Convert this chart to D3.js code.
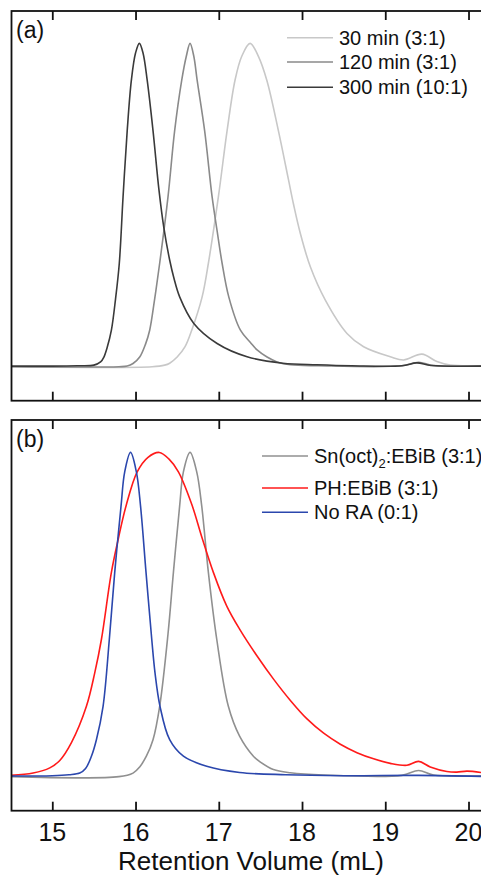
<!DOCTYPE html>
<meta charset="utf-8">
<script src="https://d3js.org/d3.v7.min.js"></script>
<style>
  body { margin: 0; background: #fff; }
  text { font-family: "Liberation Sans", Arial, sans-serif; fill: #111; }
</style>
<div id="chart"></div>
<script>
// x ticks (retention volume, mL)
var ticks = [15, 16, 17, 18, 19, 20]

// panel (a) series: [volume mL, normalised intensity]
var min300 = [[14.5,0.002],[15.0,0.002],[15.3,0.003],[15.5,0.005],[15.58,0.015],[15.62,0.03],[15.66,0.06],[15.71,0.113],[15.76,0.21],[15.805,0.32],[15.85,0.525],[15.9,0.73],[15.95,0.886],[16.0,0.97],[16.046,1.0],[16.09,0.97],[16.14,0.886],[16.21,0.73],[16.28,0.55],[16.34,0.43],[16.41,0.33],[16.46,0.275],[16.53,0.216],[16.7,0.134],[16.98,0.072],[17.34,0.031],[17.77,0.011],[18.18,0.006],[18.6,0.003],[19.2,0.003],[19.38,0.012],[19.55,0.004],[20.15,0.002]]
var min120 = [[14.5,0.0],[15.8,0.0],[15.9,0.002],[15.97,0.01],[16.05,0.03],[16.12,0.07],[16.17,0.113],[16.23,0.21],[16.29,0.32],[16.39,0.525],[16.47,0.73],[16.555,0.886],[16.61,0.96],[16.655,1.0],[16.7,0.96],[16.74,0.886],[16.83,0.73],[16.92,0.525],[16.98,0.42],[17.04,0.32],[17.12,0.216],[17.26,0.113],[17.38,0.075],[17.46,0.052],[17.58,0.03],[17.7,0.015],[17.86,0.006],[18.2,0.003],[19.2,0.003],[19.4,0.014],[19.58,0.004],[20.15,0.002]]
var min30 = [[14.5,0.0],[16.2,0.0],[16.35,0.005],[16.41,0.011],[16.5,0.03],[16.595,0.062],[16.675,0.113],[16.8,0.216],[16.875,0.32],[16.995,0.525],[17.1,0.73],[17.195,0.886],[17.276,0.96],[17.376,1.0],[17.476,0.96],[17.577,0.886],[17.716,0.73],[17.836,0.58],[17.9,0.5],[17.98,0.412],[18.1,0.309],[18.28,0.206],[18.54,0.103],[18.74,0.062],[19.06,0.031],[19.22,0.021],[19.44,0.039],[19.62,0.016],[19.78,0.005],[20.15,0.003]]

// panel (b) series
var snOct = [[14.5,0.0],[15.8,0.0],[15.97,0.011],[16.05,0.03],[16.13,0.063],[16.21,0.114],[16.29,0.217],[16.39,0.44],[16.455,0.63],[16.53,0.835],[16.575,0.94],[16.655,1.0],[16.735,0.94],[16.795,0.835],[16.875,0.63],[16.976,0.423],[17.115,0.217],[17.25,0.125],[17.416,0.063],[17.5,0.045],[17.656,0.022],[17.86,0.012],[18.26,0.005],[19.2,0.004],[19.4,0.019],[19.58,0.005],[20.15,0.003]]
var phEbib = [[14.5,0.004],[14.77,0.011],[14.97,0.027],[15.09,0.05],[15.23,0.105],[15.41,0.217],[15.51,0.32],[15.59,0.423],[15.71,0.63],[15.79,0.73],[15.886,0.835],[16.02,0.94],[16.15,0.985],[16.286,1.0],[16.4,0.98],[16.515,0.94],[16.675,0.84],[16.795,0.74],[16.935,0.63],[17.096,0.526],[17.25,0.455],[17.46,0.372],[17.66,0.3],[17.86,0.235],[18.06,0.178],[18.26,0.134],[18.46,0.1],[18.66,0.074],[18.86,0.055],[19.06,0.041],[19.26,0.035],[19.4,0.047],[19.54,0.03],[19.74,0.016],[19.86,0.014],[19.98,0.017],[20.15,0.013]]
var noRA = [[14.5,0.002],[15.0,0.003],[15.2,0.006],[15.33,0.011],[15.4,0.025],[15.47,0.063],[15.53,0.114],[15.61,0.217],[15.685,0.423],[15.75,0.63],[15.826,0.835],[15.87,0.94],[15.94,1.0],[16.01,0.94],[16.06,0.835],[16.126,0.63],[16.195,0.423],[16.234,0.32],[16.294,0.217],[16.41,0.114],[16.575,0.063],[16.855,0.032],[17.25,0.013],[17.8,0.006],[18.5,0.003],[19.4,0.004],[20.15,0.001]]

var legendA = ["30 min (3:1)", "120 min (3:1)", "300 min (10:1)"]
var legendB = ["Sn(oct)", "PH:EBiB (3:1)", "No RA (0:1)"]

const W = 481, H = 876
const left = 11.5, right = 481

const svg = d3.select("#chart").append("svg")
  .attr("width", W).attr("height", H)

svg.append("rect").attr("width", W).attr("height", H).attr("fill", "#fff")

const x = d3.scaleLinear().domain([14.51, 20.15]).range([left, right])

const line = function(y) {
  return d3.line()
    .x(d => x(d[0]))
    .y(d => y(d[1]))
    .curve(d3.curveCatmullRom.alpha(0.5))
}

function panel(top, bottom, id, label, series, legend, lx0, lx1, ly) {
  const y = d3.scaleLinear().domain([-0.105, 1.1]).range([bottom, top])
  const g = svg.append("g")

  g.append("clipPath").attr("id", id)
    .append("rect").attr("x", left).attr("y", top).attr("width", right - left + 10).attr("height", bottom - top)

  const plot = g.append("g").attr("clip-path", `url(#${id})`)
  series.forEach(s => {
    plot.append("path")
      .datum(s.data)
      .attr("d", line(y))
      .attr("fill", "none")
      .attr("stroke", s.color)
      .attr("stroke-width", 1.6)
      .attr("stroke-linejoin", "round")
  })

  // frame (right edge falls outside the window)
  g.append("rect")
    .attr("x", left).attr("y", top)
    .attr("width", right - left + 20).attr("height", bottom - top)
    .attr("fill", "none").attr("stroke", "#111").attr("stroke-width", 1.8)

  // inward ticks top and bottom
  g.append("g").attr("transform", `translate(0,${bottom})`)
    .call(d3.axisTop(x).tickValues(ticks).tickSize(9).tickFormat(""))
    .call(a => a.select(".domain").remove())
    .selectAll("line").attr("stroke", "#111").attr("stroke-width", 1.8)
  g.append("g").attr("transform", `translate(0,${top})`)
    .call(d3.axisBottom(x).tickValues(ticks).tickSize(9).tickFormat(""))
    .call(a => a.select(".domain").remove())
    .selectAll("line").attr("stroke", "#111").attr("stroke-width", 1.8)

  g.append("text")
    .attr("x", 16).attr("y", top + 19)
    .attr("dominant-baseline", "central")
    .style("font-size", "23px")
    .text(label)

  // legend
  legend.forEach((t, i) => {
    g.append("line")
      .attr("x1", lx0).attr("x2", lx1)
      .attr("y1", ly[i]).attr("y2", ly[i])
      .attr("stroke", series[i].color).attr("stroke-width", 1.6)
    const txt = g.append("text")
      .attr("x", lx1 + 6).attr("y", ly[i])
      .attr("dominant-baseline", "central")
      .style("font-size", "20px")
      .text(t)
    if (series[i].sub) {
      txt.append("tspan").attr("dy", 7).style("font-size", "13px").text("2")
      txt.append("tspan").attr("dy", -7).text(":EBiB (3:1)")
    }
  })
  return y
}

panel(11, 400.7, "clipA", "(a)",
  [{data: min30, color: "#c8c8c8"}, {data: min120, color: "#8a8a8a"}, {data: min300, color: "#3a3a3a"}],
  legendA, 287, 333, [37.7, 62, 87.3])

panel(420, 810.7, "clipB", "(b)",
  [{data: snOct, color: "#909090", sub: true}, {data: phEbib, color: "#ff1a1a"}, {data: noRA, color: "#2b47ad"}],
  legendB, 262, 308, [456, 488, 512.3])

// bottom tick labels
svg.append("g")
  .selectAll("text")
  .data(ticks)
  .join("text")
    .attr("x", d => x(d))
    .attr("y", 832)
    .attr("text-anchor", "middle")
    .attr("dominant-baseline", "central")
    .style("font-size", "25px")
    .text(d => d)

svg.append("text")
  .attr("x", 251).attr("y", 861)
  .attr("text-anchor", "middle")
  .attr("dominant-baseline", "central")
  .style("font-size", "26px")
  .text("Retention Volume (mL)")
</script>
